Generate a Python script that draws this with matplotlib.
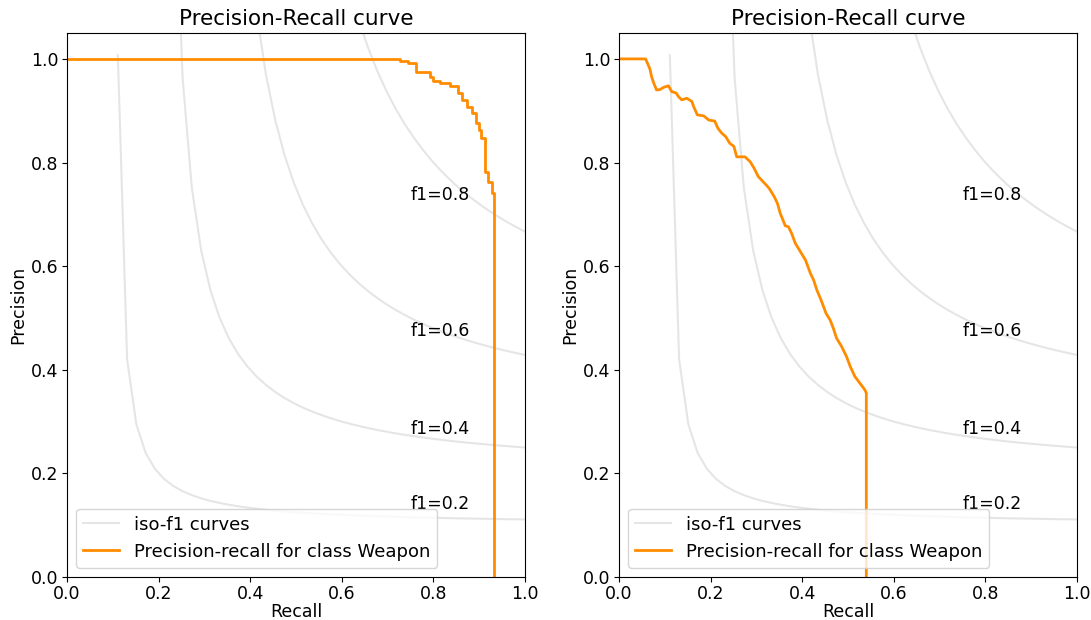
import numpy as np
import matplotlib
matplotlib.use("Agg")
import matplotlib.pyplot as plt

# ---- data ----
f_scores = [0.2, 0.4, 0.6, 0.8]

# left panel: step curve (steps-post)
recall_left = [0.000, 0.727, 0.745, 0.763, 0.793, 0.800, 0.814, 0.836, 0.854,
               0.862, 0.874, 0.884, 0.894, 0.900, 0.905, 0.913, 0.920, 0.927, 0.933]
precision_left = [1.000, 0.995, 0.992, 0.974, 0.966, 0.958, 0.953, 0.947, 0.934,
                  0.921, 0.908, 0.895, 0.876, 0.863, 0.847, 0.782, 0.763, 0.741, 0.000]

# right panel: curve vertices
recall_right = [0.000, 0.058, 0.064, 0.068, 0.071, 0.076, 0.082, 0.090, 0.097, 0.108,
                0.115, 0.125, 0.130, 0.137, 0.148, 0.159, 0.163, 0.171, 0.185, 0.196,
                0.209, 0.216, 0.224, 0.233, 0.242, 0.251, 0.257, 0.275, 0.286, 0.295,
                0.304, 0.321, 0.328, 0.339, 0.346, 0.352, 0.363, 0.370, 0.377, 0.385,
                0.396, 0.407, 0.418, 0.425, 0.432, 0.441, 0.452, 0.461, 0.468, 0.475,
                0.486, 0.497, 0.505, 0.515, 0.526, 0.537, 0.540, 0.540]
precision_right = [1.000, 1.000, 0.988, 0.979, 0.966, 0.953, 0.940, 0.941, 0.945, 0.948,
                   0.937, 0.934, 0.927, 0.921, 0.924, 0.918, 0.908, 0.892, 0.890, 0.882,
                   0.880, 0.866, 0.857, 0.850, 0.837, 0.831, 0.811, 0.811, 0.802, 0.789,
                   0.773, 0.757, 0.750, 0.734, 0.721, 0.702, 0.678, 0.676, 0.663, 0.644,
                   0.628, 0.612, 0.586, 0.573, 0.554, 0.535, 0.509, 0.496, 0.480, 0.461,
                   0.445, 0.425, 0.406, 0.387, 0.374, 0.361, 0.355, 0.000]

class_name = "Weapon"
ticks = [0.0, 0.2, 0.4, 0.6, 0.8, 1.0]

fig = plt.figure(figsize=(10.91, 6.2), dpi=100)
ax1 = fig.add_axes([67/1091, 1-577/620, 458/1091, 544/620])
ax2 = fig.add_axes([619/1091, 1-577/620, 458/1091, 544/620])

for ax, rec, prec, ds in [(ax1, recall_left, precision_left, 'steps-post'),
                          (ax2, recall_right, precision_right, 'default')]:
    lines = []
    labels = []
    for f in f_scores:
        x = np.linspace(0.01, 1)
        y = f * x / (2 * x - f)
        l, = ax.plot(x[y >= 0], y[y >= 0], color='gray', alpha=0.2, lw=1.5)
        ax.annotate('f1={0:0.1f}'.format(f), xy=(0.75, y[45] + 0.02), fontsize=12.5)
    lines.append(l)
    labels.append('iso-f1 curves')
    l2, = ax.plot(rec, prec, color='darkorange', lw=2, drawstyle=ds)
    lines.append(l2)
    labels.append('Precision-recall for class {}'.format(class_name))
    ax.set_xlim(0.0, 1.0)
    ax.set_ylim(0.0, 1.05)
    ax.set_xticks(ticks)
    ax.set_yticks(ticks)
    ax.tick_params(labelsize=12.5, pad=2.5)
    ax.set_xlabel('Recall', fontsize=12.5, labelpad=0)
    ax.set_ylabel('Precision', fontsize=12.5, labelpad=3)
    ax.set_title('Precision-Recall curve', fontsize=15.5)
    ax.legend(lines, labels, loc='lower left', fontsize=13)

fig.savefig('out.png', dpi=100)
